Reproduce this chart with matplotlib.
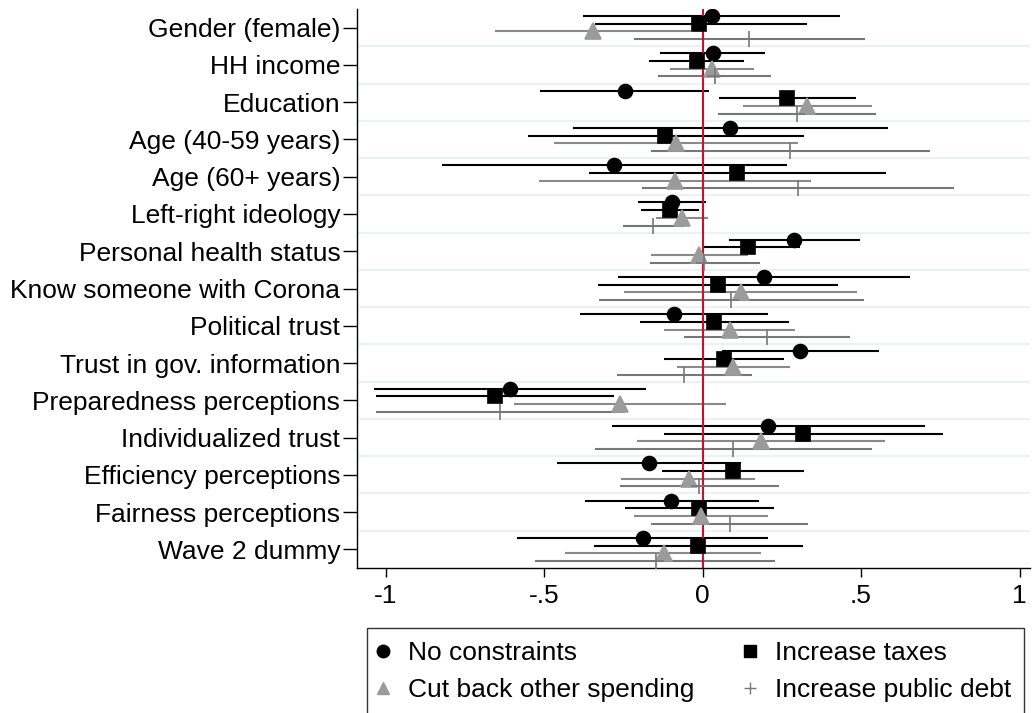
import matplotlib.pyplot as plt
from matplotlib.lines import Line2D

plt.rcParams["font.family"] = ["Liberation Sans", "DejaVu Sans"]

categories = [
    "Gender (female)", "HH income", "Education", "Age (40-59 years)",
    "Age (60+ years)", "Left-right ideology", "Personal health status",
    "Know someone with Corona", "Political trust", "Trust in gov. information",
    "Preparedness perceptions", "Individualized trust", "Efficiency perceptions",
    "Fairness perceptions", "Wave 2 dummy",
]

series_names = ["No constraints", "Increase taxes",
                "Cut back other spending", "Increase public debt"]

# point estimates
no_constraints = [0.030, 0.033, -0.246, 0.088, -0.278, -0.097, 0.290, 0.194,
                  -0.089, 0.309, -0.608, 0.207, -0.170, -0.099, -0.189]
increase_taxes = [-0.010, -0.019, 0.268, -0.118, 0.110, -0.103, 0.144, 0.049,
                  0.037, 0.068, -0.654, 0.318, 0.097, -0.010, -0.014]
cut_spending = [-0.344, 0.029, 0.330, -0.084, -0.086, -0.066, -0.011, 0.120,
                0.086, 0.096, -0.261, 0.183, -0.044, -0.005, -0.120]
public_debt = [0.148, 0.040, 0.297, 0.277, 0.300, -0.156, 0.005, 0.089,
               0.203, -0.059, -0.639, 0.097, -0.010, 0.086, -0.148]

# confidence intervals (lower, upper)
no_constraints_lo = [-0.376, -0.133, -0.512, -0.409, -0.823, -0.204, 0.085, -0.267,
                     -0.387, 0.060, -1.035, -0.285, -0.459, -0.371, -0.586]
no_constraints_hi = [0.434, 0.198, 0.021, 0.586, 0.267, 0.012, 0.498, 0.656,
                     0.208, 0.557, -0.179, 0.701, 0.122, 0.177, 0.208]
increase_taxes_lo = [-0.339, -0.168, 0.051, -0.552, -0.357, -0.194, 0.000, -0.331,
                     -0.197, -0.120, -1.029, -0.122, -0.127, -0.244, -0.342]
increase_taxes_hi = [0.329, 0.130, 0.483, 0.319, 0.578, -0.010, 0.307, 0.428,
                     0.274, 0.257, -0.278, 0.757, 0.319, 0.225, 0.318]
cut_spending_lo = [-0.654, -0.103, 0.127, -0.470, -0.515, -0.146, -0.162, -0.248,
                   -0.123, -0.081, -0.595, -0.207, -0.256, -0.216, -0.433]
cut_spending_hi = [-0.036, 0.162, 0.534, 0.301, 0.342, 0.016, 0.144, 0.486,
                   0.293, 0.275, 0.073, 0.575, 0.167, 0.205, 0.186]
public_debt_lo = [-0.216, -0.140, 0.049, -0.164, -0.190, -0.251, -0.166, -0.327,
                  -0.060, -0.270, -1.029, -0.338, -0.260, -0.162, -0.530]
public_debt_hi = [0.513, 0.215, 0.548, 0.719, 0.793, -0.059, 0.181, 0.508,
                  0.465, 0.155, -0.248, 0.535, 0.240, 0.334, 0.230]

x_ticks = [-1, -0.5, 0, 0.5, 1]
x_tick_labels = ["-1", "-.5", "0", ".5", "1"]


def main():
    fig = plt.figure(figsize=(10.32, 7.13), dpi=100)
    ax = fig.add_axes([357 / 1032, 1 - 568 / 713, 673 / 1032, 559 / 713])

    positions = list(range(1, len(categories) + 1))
    offsets = [-0.31, -0.103, 0.103, 0.31]

    styles = [
        dict(marker="o", ms=10, mfc="black", mec="black", line="black"),
        dict(marker="s", ms=10.5, mfc="black", mec="black", line="black"),
        dict(marker="^", ms=11, mfc="#9b9b9b", mec="#9b9b9b", line="#8a8a8a"),
        dict(marker="+", ms=11, mfc="#777777", mec="#777777", line="#777777"),
    ]
    data = [
        (no_constraints, no_constraints_lo, no_constraints_hi),
        (increase_taxes, increase_taxes_lo, increase_taxes_hi),
        (cut_spending, cut_spending_lo, cut_spending_hi),
        (public_debt, public_debt_lo, public_debt_hi),
    ]

    # grid lines between categories
    for b in range(1, len(categories)):
        ax.axhline(b + 0.5, color="#eaf2f3", lw=1.6, zorder=0)

    for (coef, lo, hi), st, off in zip(data, styles, offsets):
        ys = [p + off for p in positions]
        ax.hlines(ys, lo, hi, color=st["line"], lw=1.5, zorder=2)

    ax.axvline(0, color="#c8102e", lw=1.5, zorder=2.5)

    for (coef, lo, hi), st, off in zip(data, styles, offsets):
        ys = [p + off for p in positions]
        ax.plot(coef, ys, ls="none", marker=st["marker"], ms=st["ms"],
                mfc=st["mfc"], mec=st["mec"], mew=1.2, zorder=3)

    ax.set_xlim(-1.09, 1.033)
    ax.set_ylim(15.5, 0.5)
    ax.set_yticks(positions)
    ax.set_yticklabels(categories, fontsize=19)
    ax.set_xticks(x_ticks)
    ax.set_xticklabels(x_tick_labels, fontsize=19)
    ax.tick_params(axis="y", length=10, width=1, pad=2)
    ax.tick_params(axis="x", length=6.5, width=1, pad=5)

    for side in ["top", "right"]:
        ax.spines[side].set_visible(False)
    for side in ["left", "bottom"]:
        ax.spines[side].set_linewidth(1)

    handles = [
        Line2D([], [], ls="none", marker="o", ms=9, color="black"),
        Line2D([], [], ls="none", marker="^", ms=9, color="#9b9b9b"),
        Line2D([], [], ls="none", marker="s", ms=9, color="black"),
        Line2D([], [], ls="none", marker="+", ms=9, mew=1, color="#777777"),
    ]
    labels = ["No constraints", "Cut back other spending",
              "Increase taxes", "Increase public debt"]
    leg = fig.legend(handles, labels, ncol=2, loc="upper left",
                     bbox_to_anchor=(367 / 1032, 1 - 628 / 713),
                     fontsize=19, frameon=True, fancybox=False,
                     edgecolor="black", handlelength=0.25, handletextpad=0.8,
                     columnspacing=2.0, borderpad=0.5, labelspacing=0.5,
                     borderaxespad=0)
    leg.get_frame().set_linewidth(1)

    fig.savefig("out.png", dpi=100)
    plt.close(fig)


if __name__ == "__main__":
    main()
